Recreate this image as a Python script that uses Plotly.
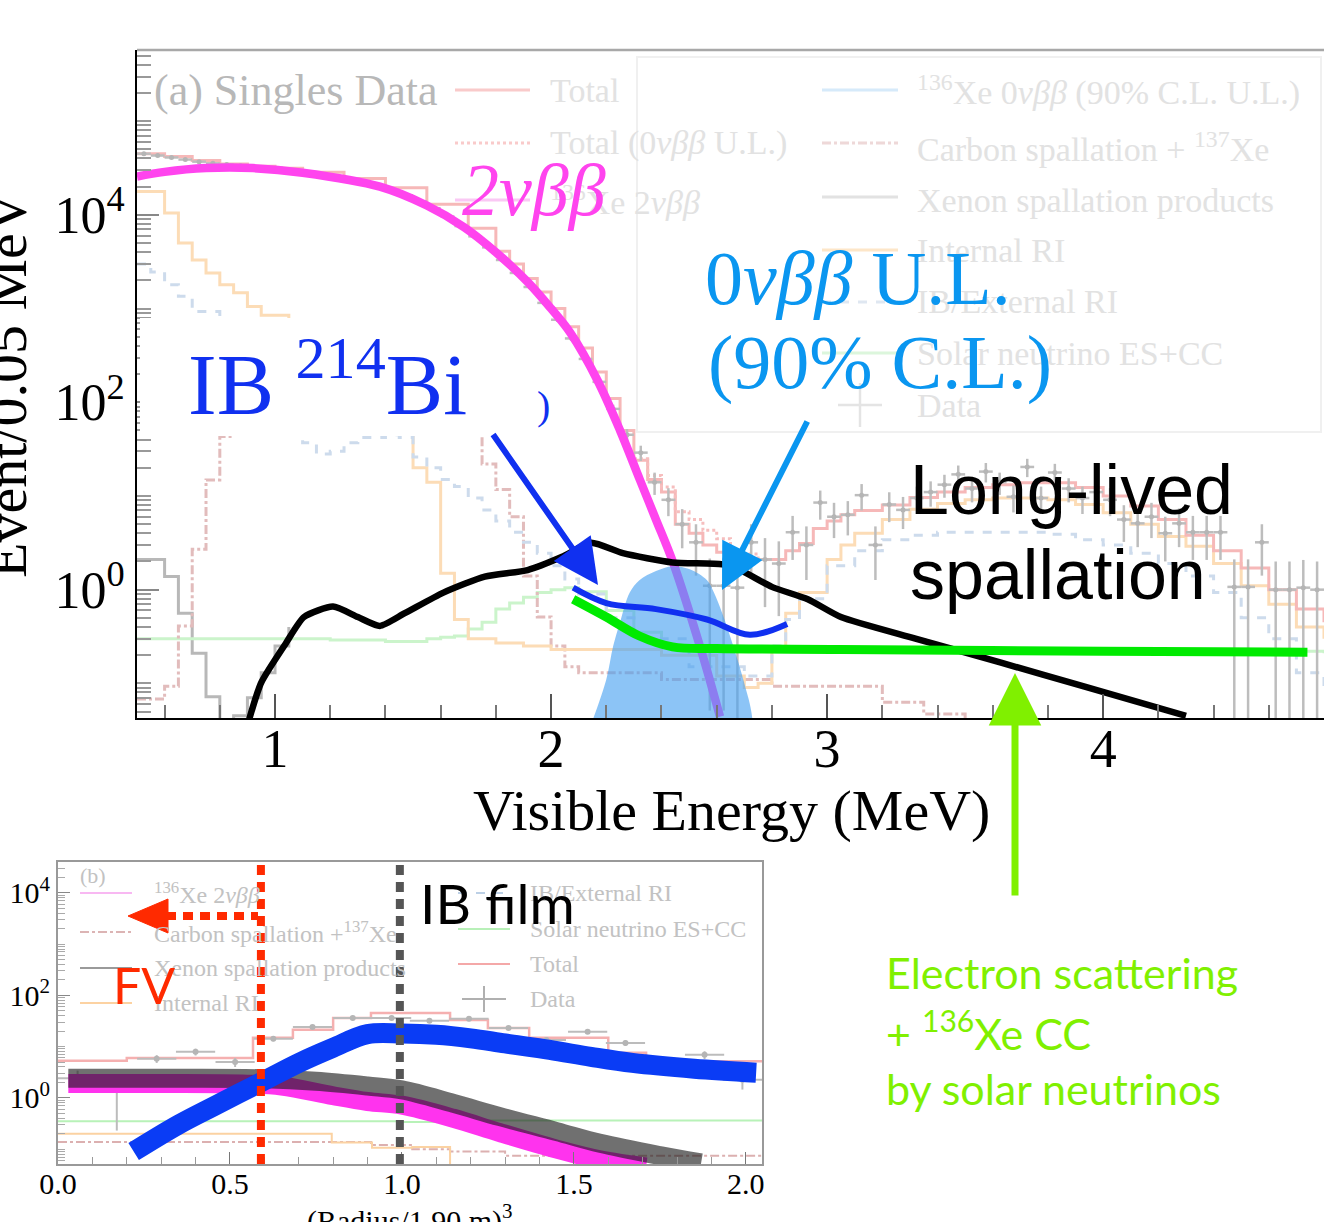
import numpy as np
import plotly.graph_objects as go

W, H = 1324, 1222

# ================= Panel (a): energy spectrum =================
# highlighted components (MeV, events / 0.05 MeV)
e_2nbb = [0.5, 0.6, 0.75, 0.92, 1.1, 1.38, 1.55, 1.685, 1.8, 1.917, 2.0, 2.07, 2.167, 2.25, 2.322, 2.38, 2.442, 2.54, 2.612]
v_2nbb = [25700, 28800, 31600, 31600, 28200, 20000, 12600, 7400, 4000, 1900, 1000, 550, 174, 50, 14.8, 5.6, 1.95, 0.245, 0.044]

e_0nbb = [2.15, 2.20, 2.225, 2.25, 2.285, 2.32, 2.38, 2.44, 2.50, 2.565, 2.59, 2.62, 2.66, 2.70, 2.73]
v_0nbb = [0.04, 0.11, 0.25, 0.45, 0.93, 1.26, 1.58, 1.78, 1.66, 1.26, 0.93, 0.56, 0.25, 0.10, 0.04]

e_spall = [0.905, 0.95, 1.04, 1.105, 1.21, 1.30, 1.38, 1.47, 1.61, 1.76, 1.915, 2.04, 2.145, 2.26, 2.44, 2.62, 2.685, 2.80, 2.93, 3.05, 3.32, 3.63, 3.93, 4.30]
v_spall = [0.040, 0.102, 0.27, 0.51, 0.66, 0.51, 0.41, 0.56, 0.93, 1.38, 1.62, 2.24, 3.16, 2.45, 1.95, 1.86, 1.62, 1.07, 0.79, 0.51, 0.30, 0.166, 0.093, 0.045]

e_bi = [2.08, 2.20, 2.38, 2.565, 2.72, 2.855]
v_bi = [1.05, 0.72, 0.62, 0.48, 0.33, 0.43]

e_solar = [2.08, 2.20, 2.32, 2.44, 2.6, 3.05, 4.0, 4.74]
v_solar = [0.79, 0.51, 0.32, 0.245, 0.235, 0.23, 0.22, 0.215]

# faint background histograms (left bin edges, contents)
e_total = [0.5, 0.6, 0.7, 0.8, 0.9, 1.0, 1.1, 1.25, 1.4, 1.55, 1.7, 1.8, 1.85, 1.9, 1.95, 2.0, 2.05, 2.1, 2.15, 2.2,
           2.25, 2.3, 2.35, 2.4, 2.45, 2.5, 2.55, 2.6, 2.65, 2.75, 2.85, 2.9, 2.95, 3.0, 3.05, 3.1, 3.2, 3.3, 3.4, 3.5,
           3.6, 3.7, 3.8, 3.9, 4.0, 4.1, 4.2, 4.3, 4.4, 4.5, 4.6, 4.7, 4.8]
v_total = [45000, 42000, 38000, 35000, 33000, 31500, 28500, 24500, 19500, 13000, 7200, 4100, 3000, 2100, 1500, 1000, 640, 380, 210, 110,
           50, 24, 15, 11, 5, 4, 3, 2.5, 2.1, 2.1, 2.6, 3.1, 4.5, 5.4, 6.3, 7.0, 8.0, 9.6, 11, 12.3,
           13.2, 13.8, 13.8, 12.3, 10, 7.8, 5.6, 3.8, 2.6, 1.7, 1.0, 0.62, 0.45]

e_total_ul = [2.3, 2.35, 2.4, 2.45, 2.5, 2.55, 2.6, 2.65, 2.75]
v_total_ul = [25, 16.5, 12.5, 6.8, 5.6, 4.3, 3.5, 2.4, 2.1]

e_internal = [0.5, 0.6, 0.65, 0.7, 0.75, 0.8, 0.85, 0.9, 0.95, 1.05, 1.15, 1.25, 1.35, 1.45, 1.5, 1.55, 1.6, 1.65, 1.7, 1.8,
              1.9, 2.0, 2.2, 2.4, 2.6, 2.7, 2.75, 2.8, 2.85, 2.9, 3.0, 3.05, 3.1, 3.2, 3.3, 3.4, 3.5, 3.6, 3.7, 3.8,
              3.9, 4.0, 4.1, 4.2, 4.3, 4.4, 4.5, 4.6, 4.7, 4.8]
v_internal = [17800, 10500, 5000, 3300, 2400, 1800, 1480, 1050, 850, 480, 270, 150, 85, 47, 20, 14, 1.5, 0.48, 0.30, 0.27,
              0.25, 0.23, 0.23, 0.2, 0.12, 0.09, 0.1, 0.23, 0.56, 0.93, 2.1, 3.0, 4.0, 5.6, 7.2, 8.3, 9.1, 9.5, 9.5, 9.1,
              8.1, 6.6, 5.0, 3.7, 2.9, 1.9, 1.1, 0.7, 0.40, 0.3]

e_external = [0.5, 0.55, 0.6, 0.65, 0.7, 0.8, 0.9, 1.0, 1.05, 1.1, 1.15, 1.2, 1.25, 1.3, 1.4, 1.45, 1.5, 1.55, 1.6, 1.65,
              1.7, 1.75, 1.8, 1.85, 1.9, 1.95, 2.0, 2.05, 2.1, 2.2, 2.3, 2.5, 2.7, 2.8, 2.85, 2.9, 3.0, 3.1, 3.2, 3.3,
              3.4, 3.5, 3.6, 3.7, 3.8, 3.9, 4.0, 4.1, 4.2, 4.3, 4.4, 4.5, 4.6, 4.7, 4.8]
v_external = [3000, 2450, 1800, 1350, 930, 420, 180, 70, 50, 37, 28, 30, 37, 42, 45, 42, 26, 20, 15, 12.6,
              9.5, 7.1, 5.4, 4.1, 3.2, 2.45, 1.8, 1.3, 0.9, 0.5, 0.3, 0.15, 0.12, 0.25, 0.48, 0.8, 1.8, 2.6, 3.4, 3.8,
              4.1, 4.1, 4.1, 4.1, 3.9, 3.4, 3.0, 2.45, 1.9, 1.4, 0.93, 0.5, 0.3, 0.13, 0.09]

e_carbon = [0.5, 0.6, 0.65, 0.7, 0.75, 0.8, 0.85, 0.9, 1.0, 1.2, 1.4, 1.6, 1.7, 1.75, 1.8, 1.85, 1.9, 1.95, 2.0, 2.05,
            2.1, 2.4, 2.8, 3.2, 3.35, 3.5]
v_carbon = [0.068, 0.093, 0.41, 2.7, 14.8, 43, 80, 110, 150, 170, 150, 90, 47, 22, 11.7, 6, 1.4, 0.51, 0.25, 0.15,
            0.13, 0.11, 0.093, 0.063, 0.047, 0.03]

e_solar_h = [0.5, 0.8, 1.0, 1.2, 1.4, 1.55, 1.6, 1.65, 1.7, 1.75, 1.8, 1.85, 1.9, 1.95, 2.0, 2.05, 2.1, 2.2, 2.3, 2.4,
             2.6, 3.0, 4.0, 4.8]
v_solar_h = [0.30, 0.30, 0.30, 0.29, 0.28, 0.30, 0.31, 0.32, 0.38, 0.45, 0.62, 0.72, 0.83, 0.93, 1.0, 1.05, 0.95, 0.6, 0.35, 0.25,
             0.24, 0.23, 0.22, 0.21]

e_xenon = [0.5, 0.6, 0.65, 0.7, 0.75, 0.8, 0.85, 0.9, 0.95, 1.0, 1.05]
v_xenon = [2.1, 1.38, 0.56, 0.21, 0.072, 0.035, 0.045, 0.07, 0.13, 0.25, 0.4]

# data (0.05 MeV bins)
e_data = list(np.round(np.arange(0.525, 4.8, 0.05), 3))
v_data = [45000, 43000, 41000, 39000, 37000, 35500, 34500, 33500, 32500, 31800,
          30800, 29500, 28300, 27000, 25500, 24000, 22300, 20500, 18500, 16200,
          14000, 11800, 9600, 7600, 5900, 4500, 3300, 2400, 1700, 1150,
          760, 480, 290, 165, 85, 45,
          29, 14, 9.1, 5.0, 3.2, 1.1, 1.1, 1.05, 3.2, 2.1,
          1.9, 4.1, 3.0, 8.5, 6.0, 6.3, 10.2, 3.0, 8.1, 7.1,
          9.5, 11.0, 13.2, 17.0, 12.0, 18.2, 14.0, 9.8, 20.4, 9.5,
          17.8, 12.0, 9.5, 11.0, 9.1, 5.6, 5.1, 6.0, 4.0, 5.1,
          4.1, 4.1, 4.1, 1.07, 1.07, 3.2, 1.0, 1.0, 1.05, 1.0]
assert len(e_data) == len(v_data)

# ================= Panel (b): radial distribution =================
r_bi = [0.22, 0.35, 0.45, 0.587, 0.7, 0.8, 0.9, 1.0, 1.1, 1.2, 1.3, 1.43, 1.55, 1.67, 1.85, 2.03]
n_bi = [0.09, 0.3, 0.67, 1.96, 4.8, 9.5, 17.5, 18, 17, 14.5, 11.5, 8.6, 6.3, 4.8, 3.7, 3.1]

r_2nbb = [0.03, 0.3, 0.55, 0.65, 0.8, 0.9, 1.0, 1.15, 1.285, 1.45, 1.576, 1.71]
n_2nbb = [1.9, 1.9, 1.85, 1.7, 1.1, 0.85, 0.72, 0.4, 0.21, 0.1, 0.062, 0.045]

r_xe = [0.03, 0.3, 0.6, 0.75, 0.9, 1.0, 1.15, 1.285, 1.45, 1.576, 1.75, 1.87]
n_xe = [2.4, 2.4, 2.35, 2.1, 1.7, 1.43, 0.78, 0.43, 0.22, 0.13, 0.075, 0.054]

r_total = [0.0, 0.2, 0.567, 0.683, 0.80, 0.91, 1.14, 1.25, 1.37, 1.6, 1.71, 2.047]
n_total = [5.3, 6.0, 14.8, 21.2, 36, 45, 33, 23, 14.8, 7.6, 5.2, 5.2]

r_solar = [0.0, 1.0, 1.1, 2.047]
n_solar = [0.35, 0.34, 0.36, 0.36]

r_internal = [0.0, 0.796, 0.913, 1.03, 1.14]
n_internal = [0.2, 0.134, 0.106, 0.11, 0.03]

r_carbon = [0.0, 0.91, 1.03, 1.14, 1.3, 2.047]
n_carbon = [0.138, 0.12, 0.1, 0.09, 0.074, 0.074]

r_data = [0.057, 0.171, 0.287, 0.40, 0.515, 0.626, 0.74, 0.857, 0.97, 1.08, 1.195, 1.31, 1.42, 1.54, 1.65, 1.765, 1.88, 1.99]
n_data = [2.4, 1.43, 5.8, 7.9, 5.0, 14.2, 24, 36, 36, 32, 35, 23, 13.5, 19.4, 11.8, 3.85, 6.9, 2.25]
n_err = [1.0, 1.2, 1.0, 1.2, 1.0, 1.5, 2.0, 2.5, 2.5, 2.4, 2.5, 2.0, 1.5, 1.8, 1.5, 0.9, 1.2, 0.8]

r_fv_cut = 0.59
r_ib_film = 0.994

# ================= figure =================
def PX(x):
    return x / W


def PY(y):
    return 1 - y / H


SERIF = "Liberation Serif"
SANS = "Liberation Sans"
CAL = "Lato"

fig = go.Figure()


def faint(x, y, color, dash="solid", width=3, ax="x", ay="y"):
    fig.add_trace(go.Scatter(x=x, y=y, mode="lines", line=dict(color=color, width=width, dash=dash, shape="hv"),
                             xaxis=ax, yaxis=ay, hoverinfo="skip"))


# --- panel (a) faint histograms
faint(e_xenon, v_xenon, "#b8b8b8")
faint(e_solar_h, v_solar_h, "#cbf4cb")
faint(e_carbon, v_carbon, "#e2bcbc", dash="dashdot")
faint(e_internal, v_internal, "#fcdcb6")
faint(e_external, v_external, "#cddbec", dash="dash")
faint(e_total, v_total, "#f6b8b8")
faint(e_total_ul, v_total_ul, "#f6bebe", dash="dot")

# data
v_data_a = np.array(v_data, dtype=float)
err_a = np.sqrt(v_data_a)
err_lo = np.where(v_data_a - err_a <= 0.02, v_data_a - 1e-3, err_a)
fig.add_trace(go.Scatter(x=e_data, y=v_data, mode="markers", marker=dict(color="#b5b5b5", size=5),
                         error_y=dict(type="data", array=err_a, arrayminus=err_lo, color="#bdbdbd", thickness=2.5, width=0),
                         error_x=dict(type="constant", value=0.025, color="#bdbdbd", thickness=2.5, width=0),
                         xaxis="x", yaxis="y", hoverinfo="skip"))

# 2nbb
fig.add_trace(go.Scatter(x=e_2nbb, y=v_2nbb, mode="lines", line=dict(color="#ff44ee", width=8.5, shape="spline"),
                         xaxis="x", yaxis="y", hoverinfo="skip"))
# 0nbb upper limit (filled)
fig.add_trace(go.Scatter(x=e_0nbb + e_0nbb[::-1], y=v_0nbb + [1e-3] * len(e_0nbb), mode="lines", fill="toself",
                         fillcolor="rgba(70,160,240,0.62)", line=dict(color="rgba(70,160,240,0.0)", width=0, shape="spline"),
                         xaxis="x", yaxis="y", hoverinfo="skip"))
# long-lived spallation
fig.add_trace(go.Scatter(x=e_spall, y=v_spall, mode="lines", line=dict(color="#000000", width=6.5, shape="spline", smoothing=0.6),
                         xaxis="x", yaxis="y", hoverinfo="skip"))
# IB 214Bi
fig.add_trace(go.Scatter(x=e_bi, y=v_bi, mode="lines", line=dict(color="#1030f0", width=6, shape="spline"),
                         xaxis="x", yaxis="y", hoverinfo="skip"))
# solar nu
fig.add_trace(go.Scatter(x=e_solar, y=v_solar, mode="lines", line=dict(color="#00ea00", width=9, shape="spline"),
                         xaxis="x", yaxis="y", hoverinfo="skip"))

# --- panel (b)
faint(r_carbon, n_carbon, "#dcb0b0", dash="dashdot", ax="x2", ay="y2", width=2)
faint(r_internal, n_internal, "#fbd2a2", ax="x2", ay="y2", width=2)
faint(r_solar, n_solar, "#b8f2b8", ax="x2", ay="y2", width=2)
faint(r_total, n_total, "#f5b0b0", ax="x2", ay="y2", width=2.5)
fig.add_trace(go.Scatter(x=r_data, y=n_data, mode="markers", marker=dict(color="#b5b5b5", size=6),
                         error_y=dict(type="data", array=n_err, color="#bcbcbc", thickness=2, width=0),
                         error_x=dict(type="constant", value=0.057, color="#bcbcbc", thickness=2, width=0),
                         xaxis="x2", yaxis="y2", hoverinfo="skip"))
fig.add_trace(go.Scatter(x=r_2nbb, y=n_2nbb, mode="lines", line=dict(color="#ff33ee", width=19, shape="spline"),
                         xaxis="x2", yaxis="y2", hoverinfo="skip"))
fig.add_trace(go.Scatter(x=r_xe, y=n_xe, mode="lines", line=dict(color="#1a1a1a", width=19, shape="spline"),
                         opacity=0.62, xaxis="x2", yaxis="y2", hoverinfo="skip"))
fig.add_trace(go.Scatter(x=r_bi, y=n_bi, mode="lines", line=dict(color="#0a3cf5", width=20, shape="spline"),
                         xaxis="x2", yaxis="y2", hoverinfo="skip"))

# ---- axes
minor_log = [d * 10.0 ** k for k in range(-2, 6) for d in range(1, 10) if not (d == 1 and k in (0, 2, 4))]

layout = dict(
    width=W, height=H, margin=dict(l=0, r=0, t=0, b=0, autoexpand=False), paper_bgcolor="white", plot_bgcolor="white",
    showlegend=False,
    xaxis=dict(domain=[137 / W, 1.0], range=[0.5, 4.8], anchor="y", automargin=False, showgrid=False, zeroline=False,
               showline=True, linecolor="black", linewidth=2, ticks="inside", ticklen=24, tickwidth=1.5,
               tickcolor="#555", tickvals=[1, 2, 3, 4], ticktext=["1", "2", "3", "4"], ticklabelstandoff=-18,
               tickfont=dict(family=SERIF, size=54, color="black"),
               minor=dict(ticks="inside", ticklen=13, tickwidth=1.5, tickcolor="#777", dtick=0.2, tick0=0, showgrid=False)),
    yaxis=dict(domain=[PY(718), PY(50)], type="log", range=[-1.37, 5.76], anchor="x", automargin=False, showgrid=False,
               zeroline=False, showline=True, linecolor="black", linewidth=2, ticks="inside", ticklen=22,
               tickwidth=1.5, tickcolor="#888", tickvals=[1, 100, 1e4],
               ticktext=["10<sup>0</sup>", "10<sup>2</sup>", "10<sup>4</sup>"],
               tickfont=dict(family=SERIF, size=52, color="black"),
               minor=dict(ticks="inside", ticklen=14, tickwidth=1.5, tickcolor="#999", tickmode="array",
                          tickvals=minor_log, showgrid=False)),
    xaxis2=dict(domain=[58 / W, 762 / W], range=[0, 2.047], anchor="y2", automargin=False, showgrid=False, zeroline=False,
                showline=True, mirror=True, linecolor="#999", linewidth=2, ticks="inside", ticklen=12,
                tickwidth=1, tickcolor="#777", tickvals=[0, 0.5, 1.0, 1.5, 2.0], ticklabelstandoff=-8,
                ticktext=["0.0", "0.5", "1.0", "1.5", "2.0"], tickfont=dict(family=SERIF, size=30, color="black"),
                minor=dict(ticks="inside", ticklen=7, tickwidth=1, tickcolor="#999", dtick=0.1, tick0=0, showgrid=False)),
    yaxis2=dict(domain=[PY(1164), PY(862)], type="log", range=[-1.29, 4.60], anchor="x2", automargin=False, showgrid=False,
                zeroline=False, showline=True, mirror=True, linecolor="#999", linewidth=2, ticks="inside",
                ticklen=12, tickwidth=1, tickcolor="#888", tickvals=[1, 100, 1e4],
                ticktext=["10<sup>0</sup>", "10<sup>2</sup>", "10<sup>4</sup>"],
                tickfont=dict(family=SERIF, size=30, color="black"),
                minor=dict(ticks="inside", ticklen=7, tickwidth=1, tickcolor="#aaa", tickmode="array",
                           tickvals=minor_log, showgrid=False)),
)
fig.update_layout(**layout)

# ---- shapes
shapes = []


def hline(x0, x1, y, color, width=3, dash="solid"):
    shapes.append(dict(type="line", xref="paper", yref="paper", x0=PX(x0), x1=PX(x1), y0=PY(y), y1=PY(y),
                       line=dict(color=color, width=width, dash=dash)))


def vline(x, y0, y1, color, width=3, dash="solid"):
    shapes.append(dict(type="line", xref="paper", yref="paper", x0=PX(x), x1=PX(x), y0=PY(y0), y1=PY(y1),
                       line=dict(color=color, width=width, dash=dash)))


hline(137, 1324, 50, "#a8a8a8", width=2.5)
shapes.append(dict(type="rect", xref="paper", yref="paper", x0=PX(637), x1=PX(1321), y0=PY(432), y1=PY(57),
                   line=dict(color="#f0f0f0", width=2), layer="below"))
# white backing of the "IB 214Bi" label
shapes.append(dict(type="rect", xref="paper", yref="paper", x0=PX(140), x1=PX(535), y0=PY(436), y1=PY(318),
                   line=dict(width=0), fillcolor="white", layer="above"))
# main legend keys
hline(455, 530, 90, "#f9caca")
hline(455, 530, 143, "#f9caca", dash="dot")
hline(455, 530, 200, "#fac8f4")
hline(822, 898, 90, "#d6eafa")
hline(822, 898, 143, "#eed8d8", dash="dashdot")
hline(822, 898, 197, "#e2e2e2")
hline(822, 898, 250, "#fde6c8")
hline(822, 898, 302, "#dfe7f1", dash="dash")
hline(822, 898, 353, "#dcf6dc")
hline(838, 882, 405, "#e4e4e4", width=2.5)
vline(860, 383, 427, "#e4e4e4", width=2.5)
# panel (b) legend keys
hline(80, 132, 893, "#f8b8f2", width=2)
hline(80, 132, 932, "#dcb4b4", width=2, dash="dashdot")
hline(80, 132, 968, "#9a9a9a", width=2)
hline(80, 132, 1003, "#fcd2a2", width=2)
hline(458, 510, 893, "#bcd0e6", width=2, dash="dash")
hline(458, 510, 929, "#b8f0b8", width=2)
hline(458, 510, 964, "#f4a8a8", width=2)
hline(462, 506, 999, "#b0b0b0", width=2)
vline(484, 986, 1012, "#b0b0b0", width=2)
# FV / IB film cut lines
for xr, col in ((r_fv_cut, "#ff2a00"), (r_ib_film, "#555555")):
    shapes.append(dict(type="line", xref="x2", yref="paper", x0=xr, x1=xr, y0=PY(1164), y1=PY(862),
                       line=dict(color=col, width=8, dash="10px,7px")))
hline(166, 258, 916, "#ff2a00", width=8, dash="10px,7px")
shapes.append(dict(type="path", xref="paper", yref="paper",
                   path=f"M {PX(128)},{PY(916)} L {PX(168)},{PY(899)} L {PX(168)},{PY(933)} Z",
                   fillcolor="#ff2a00", line=dict(color="#ff2a00", width=1)))
fig.update_layout(shapes=shapes)

# ---- annotations
ann = []


def txt(x, y, text, size, color, family=SERIF, xanchor="left", yanchor="middle", angle=0):
    ann.append(dict(x=PX(x), y=PY(y), xref="paper", yref="paper", text=text, showarrow=False,
                    xanchor=xanchor, yanchor=yanchor, textangle=angle,
                    font=dict(family=family, size=size, color=color)))


def arrow(xh, yh, xt, yt, color, width):
    ann.append(dict(x=PX(xh), y=PY(yh), xref="paper", yref="paper", text="", showarrow=True,
                    ax=xt - xh, ay=yt - yh, arrowcolor=color, arrowwidth=width, arrowhead=2, arrowsize=1.5,
                    standoff=0))


LEG_A = "#e2e2e2"
txt(152, 90, "(a) Singles Data", 44, "#b8b8b8")
txt(548, 90, "Total", 34, LEG_A)
txt(548, 143, "Total (0<i>νββ</i> U.L.)", 34, LEG_A)
txt(548, 200, "<sup>136</sup>Xe 2<i>νββ</i>", 34, LEG_A)
txt(915, 90, "<sup>136</sup>Xe 0<i>νββ</i> (90% C.L. U.L.)", 34, LEG_A)
txt(915, 147, "Carbon spallation + <sup>137</sup>Xe", 34, LEG_A)
txt(915, 200, "Xenon spallation products", 34, LEG_A)
txt(915, 250, "Internal RI", 34, LEG_A)
txt(915, 302, "IB/External RI", 34, LEG_A)
txt(915, 353, "Solar neutrino ES+CC", 34, LEG_A)
txt(915, 405, "Data", 34, LEG_A)

LEG_B = "#c2c2c2"
txt(78, 875, "(b)", 22, LEG_B)
txt(152, 893, "<sup>136</sup>Xe 2<i>νββ</i>", 24, LEG_B)
txt(152, 932, "Carbon spallation +<sup>137</sup>Xe", 24, LEG_B)
txt(152, 968, "Xenon spallation products", 24, LEG_B)
txt(152, 1003, "Internal RI", 24, LEG_B)
txt(528, 893, "IB/External RI", 24, LEG_B)
txt(528, 929, "Solar neutrino ES+CC", 24, LEG_B)
txt(528, 964, "Total", 24, LEG_B)
txt(528, 999, "Data", 24, LEG_B)

# axis titles
txt(732, 810, "Visible Energy (MeV)", 58, "black", xanchor="center")
txt(7, 385, "Event/0.05 MeV", 58, "black", xanchor="center", angle=-90)
txt(410, 1197, "(Radius/1.90 m)<sup>3</sup>", 30, "black", xanchor="center", yanchor="top")

# callouts
txt(460, 190, "<i>2νββ</i>", 74, "#ff44ee")
txt(703, 278, "0<i>νββ</i> U.L.", 76, "#0a96f0")
txt(706, 362, "(90% C.L.)", 76, "#0a96f0")
txt(186, 378, "IB <sup>214</sup>Bi", 86, "#1030f0")
txt(535, 405, ")", 40, "#1030f0")
txt(908, 490, "Long-lived", 70, "black", family=SANS)
txt(908, 575, "spallation", 70, "black", family=SANS)
txt(884, 972, "Electron scattering", 43, "#80f000", family=CAL)
txt(884, 1030, "+ <sup>136</sup>Xe CC", 43, "#80f000", family=CAL)
txt(884, 1088, "by solar neutrinos", 43, "#80f000", family=CAL)
txt(418, 903, "IB film", 55, "black", family=CAL)
txt(111, 985, "FV", 50, "#ff2a00", family=CAL)

arrow(598, 585, 492, 433, "#1030f0", 6)
arrow(722, 590, 808, 420, "#0a96f0", 6)
arrow(1015, 673, 1015, 897, "#80f000", 7)

fig.update_layout(annotations=ann)
fig.write_html("out.html")
